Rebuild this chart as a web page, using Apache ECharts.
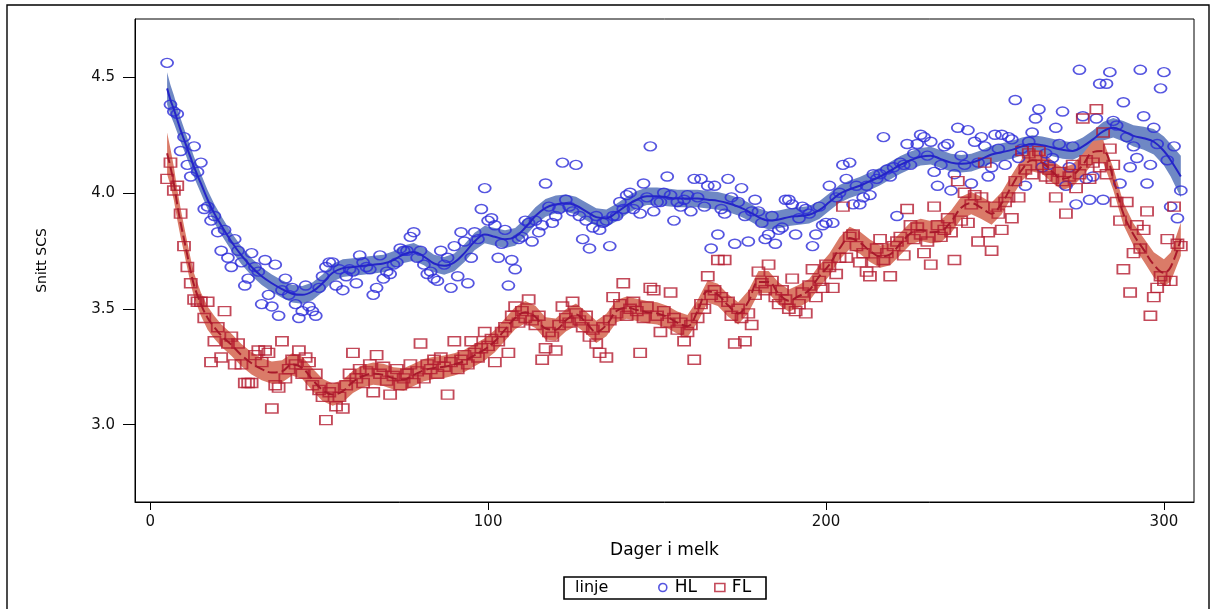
<!DOCTYPE html>
<html>
<head>
<meta charset="utf-8">
<title>Snitt SCS etter dager i melk</title>
<script src="https://cdn.jsdelivr.net/npm/echarts@6/dist/echarts.min.js"></script>
<style>
  html, body { margin: 0; padding: 0; background: #ffffff; }
  #chart { width: 1213px; height: 609px; }
</style>
</head>
<body>
<div id="chart"></div>
<script>
// Daily mean SCS per day in milk, one value per day starting at FIRST_DAY
const FIRST_DAY = 5;

const hlMeans = [
  4.56, 4.38, 4.35, 4.34, 4.18, 4.24, 4.12, 4.07, 4.20, 4.09,
  4.13, 3.93, 3.94, 3.88, 3.90, 3.83, 3.75, 3.84, 3.72, 3.68,
  3.80, 3.75, 3.70, 3.60, 3.63, 3.74, 3.68, 3.66, 3.52, 3.71,
  3.56, 3.51, 3.69, 3.47, 3.58, 3.63, 3.56, 3.59, 3.52, 3.46,
  3.49, 3.60, 3.51, 3.49, 3.47, 3.59, 3.64, 3.68, 3.70, 3.70,
  3.60, 3.67, 3.58, 3.64, 3.67, 3.66, 3.61, 3.73, 3.70, 3.68,
  3.67, 3.56, 3.59, 3.73, 3.63, 3.66, 3.65, 3.69, 3.70, 3.76,
  3.75, 3.75, 3.81, 3.83, 3.72, 3.75, 3.69, 3.65, 3.66, 3.63,
  3.62, 3.75, 3.69, 3.72, 3.59, 3.77, 3.64, 3.83, 3.79, 3.61,
  3.72, 3.83, 3.80, 3.93, 4.02, 3.88, 3.89, 3.86, 3.72, 3.78,
  3.84, 3.60, 3.71, 3.67, 3.80, 3.81, 3.88, 3.87, 3.79, 3.88,
  3.83, 3.86, 4.04, 3.94, 3.87, 3.90, 3.93, 4.13, 3.97, 3.94,
  3.92, 4.12, 3.90, 3.80, 3.88, 3.76, 3.85, 3.90, 3.84, 3.87,
  3.88, 3.77, 3.90, 3.90, 3.96, 3.93, 3.99, 4.00, 3.93, 3.95,
  3.91, 4.04, 3.98, 4.20, 3.92, 3.96, 3.96, 4.00, 4.07, 3.99,
  3.88, 3.96, 3.94, 3.97, 3.99, 3.92, 4.06, 3.98, 4.06, 3.94,
  4.03, 3.76, 4.03, 3.82, 3.93, 3.91, 4.06, 3.98, 3.78, 3.96,
  4.02, 3.90, 3.79, 3.92, 3.97, 3.92, 3.87, 3.80, 3.82, 3.90,
  3.78, 3.84, 3.85, 3.97, 3.97, 3.95, 3.82, 3.89, 3.94, 3.93,
  3.91, 3.77, 3.82, 3.94, 3.86, 3.87, 4.03, 3.87, 3.98, 4.00,
  4.12, 4.06, 4.13, 3.95, 4.03, 3.95, 3.98, 4.03, 3.99, 4.08,
  4.06, 4.08, 4.24, 4.10, 4.07, 4.11, 3.90, 4.13, 4.12, 4.21,
  4.12, 4.17, 4.21, 4.25, 4.24, 4.16, 4.22, 4.09, 4.03, 4.12,
  4.20, 4.21, 4.01, 4.08, 4.28, 4.16, 4.12, 4.27, 4.04, 4.22,
  4.13, 4.24, 4.20, 4.07, 4.11, 4.25, 4.19, 4.25, 4.12, 4.24,
  4.23, 4.40, 4.15, 4.19, 4.03, 4.22, 4.26, 4.32, 4.36, 4.11,
  4.17, 4.12, 4.15, 4.28, 4.21, 4.35, 4.03, 4.11, 4.20, 3.95,
  4.53, 4.33, 4.06, 3.97, 4.07, 4.32, 4.47, 3.97, 4.47, 4.52,
  4.31, 4.29, 4.04, 4.39, 4.24, 4.11, 4.20, 4.15, 4.53, 4.33,
  4.04, 4.12, 4.28, 4.21, 4.45, 4.52, 4.14, 3.94, 4.20, 3.89,
  4.01
];

const flMeans = [
  4.06, 4.13, 4.01, 4.03, 3.91, 3.77, 3.68, 3.61, 3.54, 3.53,
  3.53, 3.46, 3.53, 3.27, 3.36, 3.42, 3.29, 3.49, 3.35, 3.38,
  3.26, 3.35, 3.26, 3.18, 3.18, 3.18, 3.30, 3.32, 3.27, 3.32,
  3.31, 3.07, 3.17, 3.16, 3.36, 3.20, 3.24, 3.28, 3.26, 3.32,
  3.22, 3.29, 3.27, 3.17, 3.22, 3.15, 3.12, 3.02, 3.14, 3.16,
  3.08, 3.12, 3.07, 3.17, 3.22, 3.31, 3.20, 3.24, 3.18, 3.23,
  3.26, 3.14, 3.30, 3.22, 3.25, 3.19, 3.13, 3.21, 3.24, 3.17,
  3.20, 3.22, 3.26, 3.18, 3.23, 3.35, 3.20, 3.26, 3.24, 3.28,
  3.22, 3.29, 3.25, 3.13, 3.27, 3.36, 3.24, 3.28, 3.30, 3.26,
  3.36, 3.31, 3.29, 3.33, 3.40, 3.34, 3.37, 3.27, 3.36, 3.40,
  3.42, 3.31, 3.47, 3.51, 3.44, 3.49, 3.46, 3.54, 3.45, 3.43,
  3.47, 3.28, 3.33, 3.40, 3.38, 3.32, 3.43, 3.51, 3.46, 3.44,
  3.53, 3.48, 3.45, 3.42, 3.47, 3.38, 3.41, 3.35, 3.31, 3.42,
  3.29, 3.45, 3.55, 3.48, 3.52, 3.61, 3.47, 3.50, 3.53, 3.49,
  3.31, 3.46, 3.51, 3.59, 3.58, 3.47, 3.40, 3.49, 3.44, 3.57,
  3.46, 3.41, 3.44, 3.36, 3.40, 3.43, 3.28, 3.46, 3.52, 3.50,
  3.64, 3.56, 3.58, 3.71, 3.55, 3.71, 3.53, 3.47, 3.35, 3.50,
  3.46, 3.36, 3.48, 3.43, 3.56, 3.66, 3.61, 3.58, 3.69, 3.62,
  3.55, 3.52, 3.58, 3.54, 3.50, 3.63, 3.49, 3.52, 3.57, 3.48,
  3.60, 3.67, 3.55, 3.62, 3.59, 3.69, 3.68, 3.59, 3.65, 3.72,
  3.94, 3.72, 3.81, 3.82, 3.77, 3.70, 3.74, 3.66, 3.64, 3.70,
  3.76, 3.80, 3.71, 3.74, 3.64, 3.77, 3.79, 3.81, 3.73, 3.93,
  3.86, 3.80, 3.85, 3.82, 3.74, 3.79, 3.69, 3.94, 3.86, 3.81,
  3.84, 3.89, 3.83, 3.71, 4.05, 3.88, 4.00, 3.87, 3.95, 3.99,
  3.79, 3.98, 4.13, 3.83, 3.75, 3.94, 3.91, 3.84, 3.96, 3.98,
  3.89, 4.05, 3.98, 4.18, 4.10, 4.17, 4.08, 4.16, 4.18, 4.12,
  4.07, 4.10, 4.06, 3.98, 4.09, 4.05, 3.91, 4.07, 4.12, 4.02,
  4.08, 4.32, 4.14, 4.06, 4.13, 4.36, 4.11, 4.26, 4.08, 4.19,
  4.12, 3.96, 3.88, 3.67, 3.96, 3.57, 3.74, 3.86, 3.76, 3.84,
  3.92, 3.47, 3.55, 3.59, 3.64, 3.62, 3.80, 3.62, 3.94, 3.78,
  3.77
];

// Loess fit knots (day in milk) shared by both groups
const fitDays = [
  5, 6, 7, 8, 9, 10, 11, 12, 13,
  15, 17, 19, 21,
  24, 27, 30, 33, 36, 39, 42, 45, 48, 51,
  54, 57, 60, 63, 66, 69, 72, 75, 78, 81,
  84, 87, 90, 93, 96, 99, 102, 105, 108, 111,
  114, 117, 120, 123, 126, 129, 132, 135, 138, 141,
  144, 147, 150, 153, 156, 159, 162, 165, 168, 171,
  174, 177, 180, 183, 186, 189, 192, 195, 198, 201,
  204, 207, 210, 213, 216, 219, 222, 225, 228, 231,
  234, 237, 240, 243, 246, 249, 252, 255, 258, 261,
  264, 267, 270, 273, 276, 279, 282, 285, 288, 291,
  294, 297, 300,
  302, 305
];

const hlFit = [
  4.45, 4.40, 4.36, 4.315, 4.27, 4.23, 4.19, 4.15, 4.11,
  4.04, 3.97, 3.91, 3.86,
  3.79, 3.73, 3.68, 3.64, 3.61, 3.585, 3.565, 3.56, 3.575, 3.61,
  3.655, 3.675, 3.68, 3.685, 3.69, 3.695, 3.71, 3.735, 3.745, 3.725,
  3.695, 3.685, 3.70, 3.74, 3.79, 3.82, 3.81, 3.80, 3.81, 3.85,
  3.90, 3.935, 3.95, 3.955, 3.945, 3.92, 3.895, 3.89, 3.915, 3.945,
  3.97, 3.985, 3.985, 3.98, 3.975, 3.975, 3.975, 3.97, 3.965, 3.955,
  3.94, 3.92, 3.895, 3.88, 3.885, 3.895, 3.90, 3.905, 3.925, 3.96,
  3.995, 4.015, 4.03, 4.05, 4.07, 4.095, 4.12, 4.14, 4.155, 4.16,
  4.145, 4.13, 4.125, 4.13, 4.145, 4.165, 4.175, 4.185, 4.20, 4.21,
  4.205, 4.195, 4.185, 4.18, 4.20, 4.23, 4.265, 4.28, 4.265, 4.245,
  4.235, 4.22, 4.18,
  4.14, 4.07
];

const hlHalf = [
  0.07, 0.065, 0.06, 0.055, 0.05, 0.048, 0.046, 0.045, 0.044,
  0.042, 0.041, 0.04, 0.04,
  0.039, 0.038, 0.038, 0.038, 0.038, 0.038, 0.038, 0.038, 0.038, 0.038,
  0.038, 0.038, 0.038, 0.038, 0.038, 0.038, 0.038, 0.038, 0.038, 0.038,
  0.038, 0.038, 0.038, 0.038, 0.038, 0.038, 0.038, 0.038, 0.038, 0.038,
  0.038, 0.038, 0.038, 0.038, 0.038, 0.038, 0.038, 0.038, 0.038, 0.038,
  0.038, 0.038, 0.038, 0.038, 0.038, 0.038, 0.038, 0.038, 0.038, 0.038,
  0.038, 0.038, 0.038, 0.038, 0.038, 0.038, 0.038, 0.038, 0.038, 0.038,
  0.038, 0.038, 0.038, 0.038, 0.038, 0.038, 0.038, 0.038, 0.038, 0.038,
  0.038, 0.038, 0.038, 0.038, 0.038, 0.038, 0.038, 0.038, 0.038, 0.038,
  0.038, 0.038, 0.038, 0.038, 0.038, 0.038, 0.04, 0.042, 0.044, 0.046,
  0.05, 0.055, 0.062,
  0.07, 0.09
];

const flFit = [
  4.17, 4.11, 4.04, 3.95, 3.87, 3.80, 3.73, 3.66, 3.60,
  3.52, 3.46, 3.42, 3.385,
  3.345, 3.30, 3.265, 3.24, 3.225, 3.23, 3.26, 3.245, 3.195, 3.15,
  3.13, 3.145, 3.185, 3.21, 3.22, 3.215, 3.20, 3.195, 3.215, 3.235,
  3.245, 3.25, 3.26, 3.275, 3.30, 3.325, 3.36, 3.41, 3.46, 3.485,
  3.465, 3.415, 3.41, 3.45, 3.475, 3.44, 3.40, 3.43, 3.49, 3.505,
  3.495, 3.485, 3.48, 3.465, 3.44, 3.425, 3.49, 3.575, 3.56, 3.515,
  3.48, 3.53, 3.615, 3.615, 3.565, 3.535, 3.555, 3.58, 3.64, 3.69,
  3.76, 3.805, 3.785, 3.75, 3.725, 3.735, 3.78, 3.825, 3.84, 3.83,
  3.835, 3.875, 3.935, 3.955, 3.935, 3.91, 3.955, 4.03, 4.10, 4.14,
  4.13, 4.09, 4.06, 4.075, 4.12, 4.175, 4.18, 4.06, 3.91, 3.82,
  3.755, 3.69, 3.655,
  3.68, 3.80
];

const flHalf = [
  0.09, 0.08, 0.072, 0.066, 0.062, 0.058, 0.056, 0.054, 0.052,
  0.05, 0.05, 0.049, 0.048,
  0.048, 0.048, 0.048, 0.048, 0.048, 0.048, 0.048, 0.048, 0.048, 0.048,
  0.048, 0.048, 0.048, 0.048, 0.048, 0.048, 0.048, 0.048, 0.048, 0.048,
  0.048, 0.048, 0.048, 0.048, 0.048, 0.048, 0.048, 0.048, 0.048, 0.048,
  0.048, 0.048, 0.048, 0.048, 0.048, 0.048, 0.048, 0.048, 0.048, 0.048,
  0.048, 0.048, 0.048, 0.048, 0.048, 0.048, 0.048, 0.048, 0.048, 0.048,
  0.048, 0.048, 0.048, 0.048, 0.048, 0.048, 0.048, 0.048, 0.048, 0.048,
  0.048, 0.048, 0.048, 0.048, 0.048, 0.048, 0.048, 0.048, 0.048, 0.048,
  0.048, 0.048, 0.048, 0.048, 0.048, 0.048, 0.048, 0.048, 0.048, 0.048,
  0.048, 0.048, 0.048, 0.048, 0.048, 0.048, 0.048, 0.048, 0.048, 0.048,
  0.05, 0.054, 0.058,
  0.062, 0.072
];

const xTicks = [0, 100, 200, 300];
const yTicks = [3.0, 3.5, 4.0, 4.5];
const groupNames = ['HL', 'FL'];
const legendTitle = 'linje';

const FONT = 'DejaVu Sans';
const BLUE = '#2b2bd8';
const BLUE_LINE = '#2424c8';
const BLUE_BAND = '#6f88c4';
const RED = '#b41c2f';
const RED_LINE = '#a8192b';
const RED_BAND = '#da7b68';

function points(values) {
  return values.map((v, i) => [FIRST_DAY + i, v]);
}
function fitPoints(fit) {
  return fitDays.map((d, i) => [d, fit[i]]);
}
// Confidence band as a closed polygon: upper edge forward, lower edge back
function bandRenderer(fit, half, color) {
  return function (params, api) {
    const upper = fitDays.map((d, i) => api.coord([d, fit[i] + half[i]]));
    const lower = fitDays.map((d, i) => api.coord([d, fit[i] - half[i]])).reverse();
    return {
      type: 'polygon',
      shape: { points: upper.concat(lower) },
      style: { fill: color, stroke: null }
    };
  };
}

const chart = echarts.init(document.getElementById('chart'), null, { renderer: 'canvas' });

chart.setOption({
  animation: false,
  backgroundColor: '#ffffff',
  grid: {
    left: 135, top: 19, right: 19, bottom: 107,
    show: true, borderColor: '#000000', borderWidth: 1, backgroundColor: 'transparent'
  },
  xAxis: {
    type: 'value',
    min: -4.5, max: 308.9,
    name: 'Dager i melk',
    nameLocation: 'middle',
    nameGap: 40,
    nameTextStyle: { fontFamily: FONT, fontSize: 17, color: '#000' },
    splitLine: { show: false },
    axisLine: { show: true, onZero: false, lineStyle: { color: '#000', width: 1 } },
    axisTick: { show: true, length: 8, customValues: xTicks, lineStyle: { color: '#000' } },
    axisLabel: { customValues: xTicks, margin: 13, fontFamily: FONT, fontSize: 15, color: '#111' }
  },
  yAxis: {
    type: 'value',
    min: 2.667, max: 4.749,
    name: 'Snitt SCS',
    nameLocation: 'middle',
    nameGap: 86,
    nameTextStyle: { fontFamily: FONT, fontSize: 14, color: '#000' },
    splitLine: { show: false },
    axisLine: { show: true, onZero: false, lineStyle: { color: '#000', width: 1 } },
    axisTick: { show: true, length: 12, customValues: yTicks, lineStyle: { color: '#000' } },
    axisLabel: {
      customValues: yTicks, margin: 20, fontFamily: FONT, fontSize: 15, color: '#111',
      formatter: v => v.toFixed(1)
    }
  },
  legend: {
    data: [
      { name: groupNames[0], icon: 'circle',
        itemStyle: { color: 'rgba(0,0,0,0)', borderColor: BLUE, borderWidth: 1.6 } },
      { name: groupNames[1], icon: 'rect',
        itemStyle: { color: 'rgba(0,0,0,0)', borderColor: RED, borderWidth: 1.6 } }
    ],
    left: 658, top: 579,
    itemWidth: 10, itemHeight: 8, itemGap: 17,
    textStyle: { fontFamily: FONT, fontSize: 17, color: '#000', padding: [0, 0, 0, 2] },
    padding: 0
  },
  graphic: [
    { type: 'rect', shape: { x: 7, y: 5, width: 1202, height: 640 },
      style: { fill: null, stroke: '#000', lineWidth: 1.4 }, silent: true },
    { type: 'rect', shape: { x: 564, y: 577, width: 202, height: 22 },
      style: { fill: null, stroke: '#000', lineWidth: 1.6 }, silent: true },
    { type: 'text', x: 575, y: 588,
      style: { text: legendTitle, fontFamily: FONT, fontSize: 16, fill: '#000', verticalAlign: 'middle' } }
  ],
  series: [
    { type: 'custom', name: 'HL band', coordinateSystem: 'cartesian2d', clip: true, z: 1,
      data: [[fitDays[0], hlFit[0]]], renderItem: bandRenderer(hlFit, hlHalf, BLUE_BAND), silent: true },
    { type: 'custom', name: 'FL band', coordinateSystem: 'cartesian2d', clip: true, z: 1,
      data: [[fitDays[0], flFit[0]]], renderItem: bandRenderer(flFit, flHalf, RED_BAND), silent: true },
    { type: 'scatter', name: groupNames[0], z: 2, symbol: 'circle', symbolSize: [12, 9],
      itemStyle: { color: 'rgba(0,0,0,0)', borderColor: BLUE, borderWidth: 1.6 },
      data: points(hlMeans) },
    { type: 'scatter', name: groupNames[1], z: 2, symbol: 'rect', symbolSize: [12, 9],
      itemStyle: { color: 'rgba(0,0,0,0)', borderColor: RED, borderWidth: 1.6 },
      data: points(flMeans) },
    { type: 'line', name: 'HL fit', z: 3, smooth: 0.4, symbol: 'none', silent: true,
      lineStyle: { color: BLUE_LINE, width: 2 }, data: fitPoints(hlFit) },
    { type: 'line', name: 'FL fit', z: 3, smooth: 0.4, symbol: 'none', silent: true,
      lineStyle: { color: RED_LINE, width: 2, type: [10, 4] }, data: fitPoints(flFit) }
  ]
});
</script>
</body>
</html>
